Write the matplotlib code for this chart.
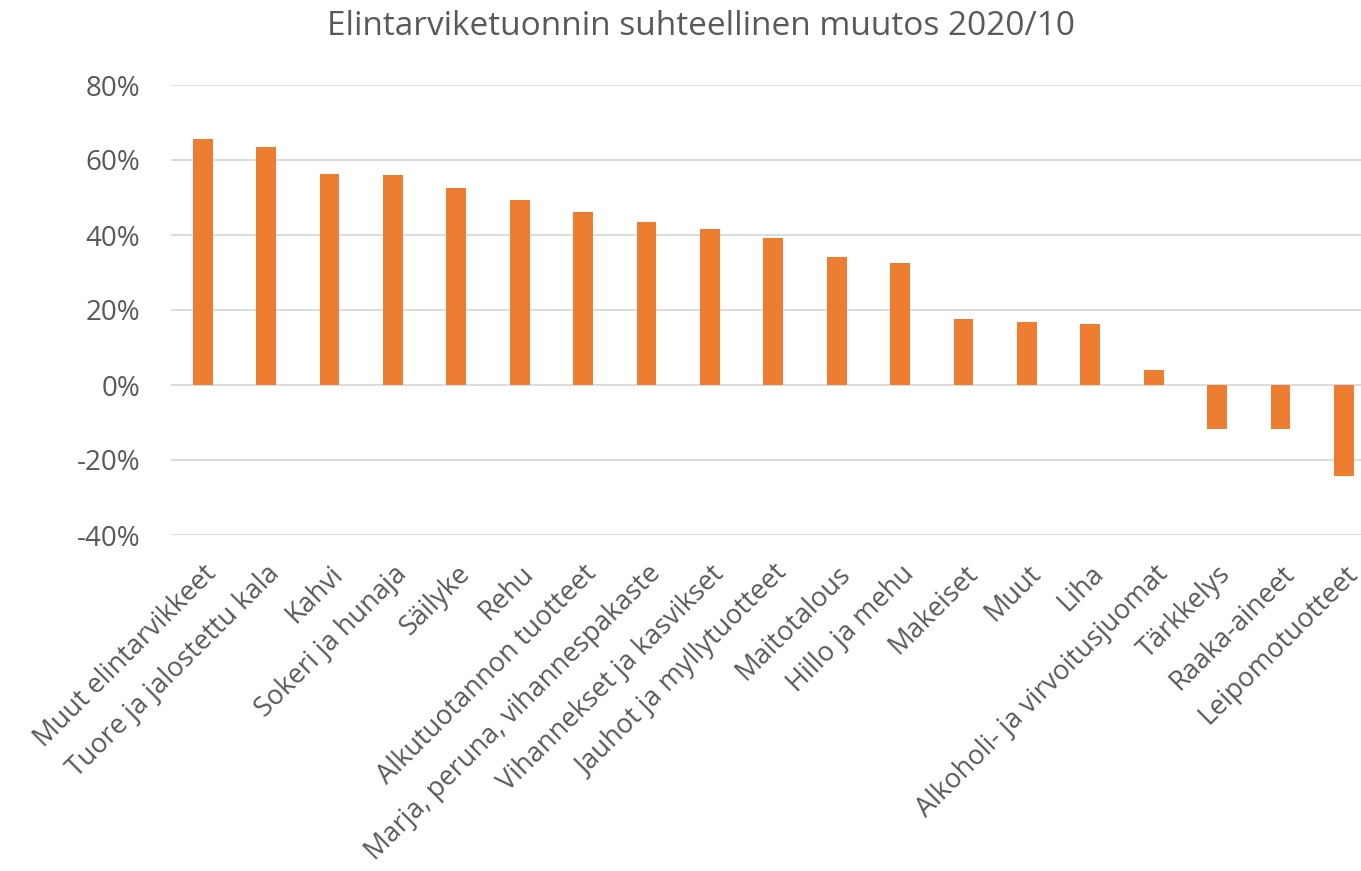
import matplotlib.pyplot as plt
from matplotlib.ticker import FuncFormatter

categories = [
    "Muut elintarvikkeet", "Tuore ja jalostettu kala", "Kahvi", "Sokeri ja hunaja",
    "Säilyke", "Rehu", "Alkutuotannon tuotteet", "Marja, peruna, vihannespakaste",
    "Vihannekset ja kasvikset", "Jauhot ja myllytuotteet", "Maitotalous",
    "Hillo ja mehu", "Makeiset", "Muut", "Liha", "Alkoholi- ja virvoitusjuomat",
    "Tärkkelys", "Raaka-aineet", "Leipomotuotteet",
]
change = [0.657, 0.634, 0.563, 0.560, 0.525, 0.493, 0.462, 0.435, 0.416, 0.393,
          0.341, 0.325, 0.176, 0.168, 0.163, 0.039, -0.117, -0.117, -0.243]

text_color = "#595959"
plt.rcParams["font.family"] = ["Open Sans", "DejaVu Sans"]

fig = plt.figure(figsize=(13.61, 8.71), dpi=100)
# plot area runs past the right edge, as in the cropped original
ax = fig.add_axes([171 / 1361, 1 - 535 / 871, 1204.6 / 1361, 450 / 871])

x = range(len(categories))
ax.bar(x, change, width=0.31, color="#ED7D31", zorder=3)

ax.set_xlim(-0.5, len(categories) - 0.5)
ax.set_ylim(-0.4, 0.8)
ax.set_yticks([-0.4, -0.2, 0, 0.2, 0.4, 0.6, 0.8])
ax.yaxis.set_major_formatter(FuncFormatter(lambda v, _: f"{v * 100:.0f}%"))
ax.grid(axis="y", color="#D9D9D9", linewidth=1.3, zorder=0)
for s in ax.spines.values():
    s.set_visible(False)
ax.tick_params(axis="y", length=0, labelsize=20, colors=text_color, pad=22)

ax.set_xticks(list(x))
ax.set_xticklabels(categories, rotation=45, ha="right", rotation_mode="anchor")
ax.tick_params(axis="x", length=0, labelsize=19.5, colors=text_color, pad=18)

fig.text(0.515, 0.97, "Elintarviketuonnin suhteellinen muutos 2020/10",
         ha="center", va="center", fontsize=24, color=text_color)

fig.savefig("out.png", dpi=100)
